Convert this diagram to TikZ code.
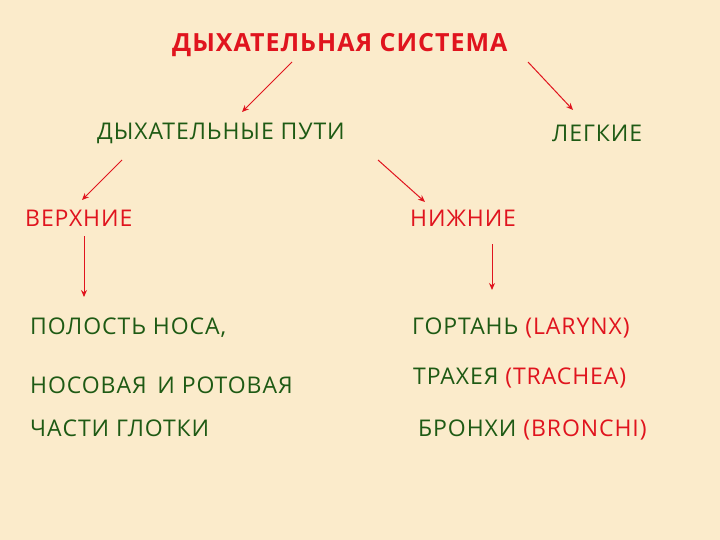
\documentclass[tikz,border=0pt]{standalone}
\usepackage{fontspec}
\usetikzlibrary{arrows.meta}
\setmainfont{Open Sans}[LetterSpace=4]
\definecolor{bg}{HTML}{FBEBCB}
\definecolor{tred}{HTML}{E0141E}
\definecolor{tgreen}{HTML}{1E5A14}
\begin{document}
\begin{tikzpicture}[x=1pt,y=-1pt,
  lbl/.style={anchor=west,inner sep=0pt,text=tgreen,font=\fontsize{23}{26}\selectfont},
  rlbl/.style={lbl,text=tred},
  arr/.style={draw=tred,line width=1pt,-{Stealth[length=7pt,width=6pt]}}]
\fill[bg] (0,0) rectangle (720,540);
\node[rlbl,font=\bfseries\fontsize{25}{28}\selectfont] (sys) at (172,45) {ДЫХАТЕЛЬНАЯ СИСТЕМА};
\node[lbl] (put) at (97,133) {ДЫХАТЕЛЬНЫЕ ПУТИ};
\node[lbl] (leg) at (552,133) {ЛЕГКИЕ};
\node[rlbl] (ver) at (25,218) {ВЕРХНИЕ};
\node[rlbl] (niz) at (410,218) {НИЖНИЕ};
\node[lbl] (p1) at (30,328) {ПОЛОСТЬ НОСА,};
\node[lbl] (p2) at (30,385) {НОСОВАЯ\, И РОТОВАЯ};
\node[lbl] (p3) at (30,428) {ЧАСТИ ГЛОТКИ};
\node[lbl] (g1) at (412,328) {ГОРТАНЬ \textcolor{tred}{(LARYNX)}};
\node[lbl] (g2) at (413,378) {ТРАХЕЯ \textcolor{tred}{(TRACHEA)}};
\node[lbl] (g3) at (418,430) {БРОНХИ \textcolor{tred}{(BRONCHI)}};
\coordinate (a1s) at (292,62); \coordinate (a1e) at (242,112);
\coordinate (a2s) at (528,62); \coordinate (a2e) at (573,110);
\coordinate (a3s) at (122,160); \coordinate (a3e) at (82,200);
\coordinate (a4s) at (378,160); \coordinate (a4e) at (425,202);
\coordinate (a5s) at (84,236); \coordinate (a5e) at (84,297);
\coordinate (a6s) at (492,244); \coordinate (a6e) at (492,290);
\draw[arr] (a1s) -- (a1e);
\draw[arr] (a2s) -- (a2e);
\draw[arr] (a3s) -- (a3e);
\draw[arr] (a4s) -- (a4e);
\draw[arr] (a5s) -- (a5e);
\draw[arr] (a6s) -- (a6e);
\end{tikzpicture}
\end{document}
